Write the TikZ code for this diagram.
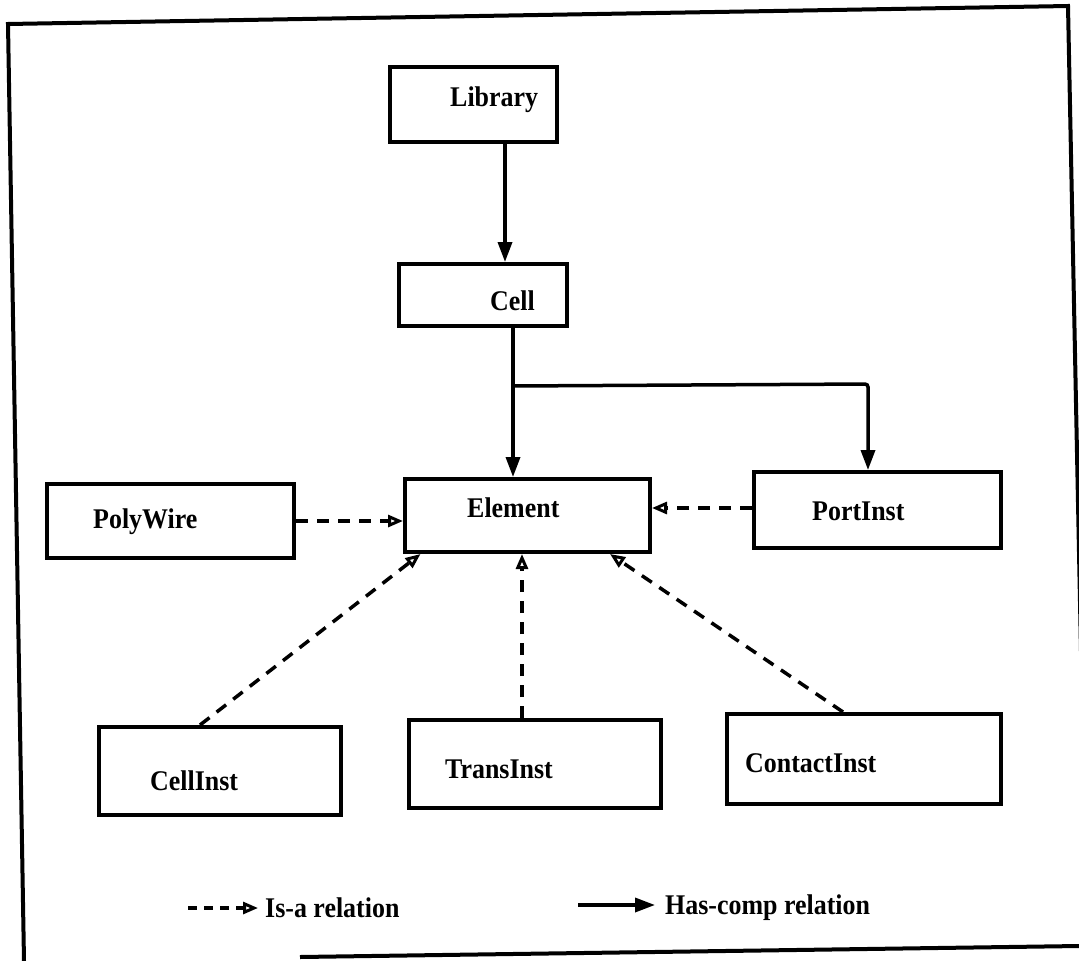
\documentclass[tikz,border=0pt]{standalone}
\usepackage{fontspec}
\setmainfont{Liberation Serif}
\newfontfamily\lblfont{Liberation Serif}[FakeStretch=0.91]
\usetikzlibrary{arrows.meta}

\tikzset{
  box/.style={draw, line width=4pt, inner sep=0pt, rectangle},
  lbl/.style={anchor=base west, inner sep=0pt,
    font=\lblfont\bfseries\fontsize{28.5}{32}\selectfont},
  hascomp/.style={line width=3.5pt, -{Triangle[length=20pt,width=14pt]}},
  isa/.style={line width=3.5pt, dash pattern=on 12pt off 9pt,
    -{Triangle[open,length=15pt,width=12pt,line width=3pt]}},
  frame/.style={line width=4pt},
}

\begin{document}
\begin{tikzpicture}[x=1pt,y=-1pt]
  \useasboundingbox (0,0) rectangle (1079,961);
  \clip (0,0) rectangle (1079,961);

  % outer frame, slightly skewed
  \draw[frame] (24,961) -- (8,24) -- (1068,6) -- (1086,900);
  \draw[frame] (300,957) -- (1079,946);

  % class boxes
  \node[box, minimum width=167pt, minimum height=75pt] (lib)   at (473.5,104.5) {};
  \node[box, minimum width=168pt, minimum height=62pt] (cell)  at (483,295) {};
  \node[box, minimum width=245pt, minimum height=73pt] (elem)  at (527.5,515.5) {};
  \node[box, minimum width=247pt, minimum height=74pt] (poly)  at (170.5,521) {};
  \node[box, minimum width=247pt, minimum height=76pt] (port)  at (877.5,510) {};
  \node[box, minimum width=242pt, minimum height=88pt] (cinst) at (220,771) {};
  \node[box, minimum width=252pt, minimum height=88pt] (tinst) at (535,764) {};
  \node[box, minimum width=274pt, minimum height=90pt] (kinst) at (864,759) {};

  % box labels
  \node[lbl] (lib-t)   at (450,106) {Library};
  \node[lbl] (cell-t)  at (490,310) {Cell};
  \node[lbl] (elem-t)  at (467,517) {Element};
  \node[lbl] (poly-t)  at (93,528)  {PolyWire};
  \node[lbl] (port-t)  at (812,520) {PortInst};
  \node[lbl] (cinst-t) at (150,790) {CellInst};
  \node[lbl] (tinst-t) at (445,778) {TransInst};
  \node[lbl] (kinst-t) at (745,772) {ContactInst};

  % has-comp relations
  \draw[hascomp] ([xshift=31.5pt]lib.south) -- ([xshift=22pt]cell.north);
  \coordinate (j1) at (513,386);
  \coordinate (j2) at (868,384);
  \draw[hascomp] ([xshift=30pt]cell.south) -- ([xshift=-14.5pt]elem.north);
  \draw[hascomp, rounded corners=3pt] (j1) -- (j2) -- ([xshift=-9.5pt]port.north);

  % is-a relations
  \draw[isa] (poly.east) -- (poly.east -| elem.west);
  \draw[isa] ([yshift=2pt]port.west) -- ([yshift=2pt]port.west -| elem.east);
  \draw[isa] ([xshift=-20pt]cinst.north) -- ([xshift=-107pt]elem.south);
  \draw[isa] ([xshift=-13pt]tinst.north) -- ([xshift=-5.5pt]elem.south);
  \draw[isa] ([xshift=-21pt]kinst.north) -- ([xshift=82.5pt]elem.south);

  % legend
  \coordinate (leg-isa-a) at (188,908);
  \coordinate (leg-isa-b) at (258,908);
  \coordinate (leg-hc-a)  at (578,905);
  \coordinate (leg-hc-b)  at (655,905);
  \draw[isa, dash pattern=on 9pt off 7pt] (leg-isa-a) -- (leg-isa-b);
  \draw[hascomp] (leg-hc-a) -- (leg-hc-b);
  \node[lbl] (leg-isa-t) at (265,917) {Is-a relation};
  \node[lbl] (leg-hc-t)  at (665,914) {Has-comp relation};
\end{tikzpicture}
\end{document}
